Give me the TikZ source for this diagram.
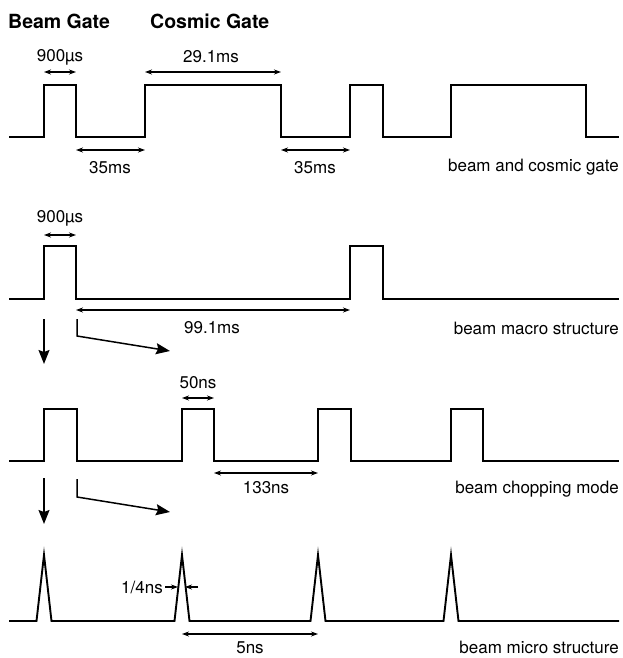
\documentclass[tikz,border=0pt]{standalone}
\usepackage{fontspec}
\setmainfont{TeX Gyre Heros}
\usetikzlibrary{arrows.meta}
\begin{document}
\begin{tikzpicture}[x=1pt,y=-1pt,
  wave/.style={line width=1.9pt,line join=miter},
  dim/.style={line width=1.1pt,{Stealth[length=7pt,width=5pt]}-{Stealth[length=7pt,width=5pt]}},
  half/.style={line width=1.1pt,-{Stealth[length=7pt,width=5pt]}},
  bigarrow/.style={line width=1.5pt,-{Stealth[length=14pt,width=11pt,inset=2pt]}},
  lbl/.style={inner sep=0pt,font=\fontsize{17}{19}\selectfont},
  title/.style={inner sep=0pt,font=\fontsize{19.5}{22}\selectfont\bfseries,anchor=west}]
\useasboundingbox (0,0) rectangle (622,658);
\fill[white] (0,0) rectangle (622,658);

% titles
\node[title] (tbeam) at (8,21) {Beam Gate};
\node[title] (tcosmic) at (150,21) {Cosmic Gate};

% ---------- row 1: beam and cosmic gate ----------
\draw[wave] (9,137) -- (44,137) -- (44,85) -- (76,85) -- (76,137) -- (145,137) -- (145,85)
  -- (281,85) -- (281,137) -- (350,137) -- (350,85) -- (383,85) -- (383,137) -- (451,137)
  -- (451,85) -- (586,85) -- (586,137) -- (619,137);
\coordinate (a1) at (44,72); \coordinate (b1) at (76,72);
\draw[dim] (a1) -- (b1);
\node[lbl] (l900a) at (60,57) {900µs};
\coordinate (a2) at (145,72); \coordinate (b2) at (281,72);
\draw[dim] (a2) -- (b2);
\node[lbl] (l291) at (211,57) {29.1ms};
\coordinate (a3) at (76,150); \coordinate (b3) at (145,150);
\draw[dim] (a3) -- (b3);
\node[lbl] (l35a) at (110,168) {35ms};
\coordinate (a4) at (281,150); \coordinate (b4) at (350,150);
\draw[dim] (a4) -- (b4);
\node[lbl] (l35b) at (315,168) {35ms};
\node[lbl,anchor=east] (r1) at (619,167) {beam and cosmic gate};

% ---------- row 2: beam macro structure ----------
\draw[wave] (9,299) -- (44,299) -- (44,246) -- (76,246) -- (76,299) -- (350,299) -- (350,246)
  -- (383,246) -- (383,299) -- (619,299);
\coordinate (a5) at (44,235); \coordinate (b5) at (76,235);
\draw[dim] (a5) -- (b5);
\node[lbl] (l900b) at (60,218) {900µs};
\coordinate (a6) at (76,310); \coordinate (b6) at (350,310);
\draw[dim] (a6) -- (b6);
\node[lbl] (l991) at (212,328) {99.1ms};
\node[lbl,anchor=east] (r2) at (619,328) {beam macro structure};
\coordinate (d1s) at (44,319); \coordinate (d1e) at (44,364);
\draw[bigarrow] (d1s) -- (d1e);
\coordinate (e1s) at (77,319); \coordinate (e1m) at (77,336); \coordinate (e1e) at (170,351);
\draw[bigarrow,line join=miter] (e1s) -- (e1m) -- (e1e);

% ---------- row 3: beam chopping mode ----------
\draw[wave] (9,461) -- (44,461) -- (44,409) -- (77,409) -- (77,461) -- (182,461) -- (182,409)
  -- (214,409) -- (214,461) -- (318,461) -- (318,409) -- (351,409) -- (351,461) -- (451,461)
  -- (451,409) -- (483,409) -- (483,461) -- (619,461);
\coordinate (a7) at (182,398); \coordinate (b7) at (214,398);
\draw[dim] (a7) -- (b7);
\node[lbl] (l50) at (198,383) {50ns};
\coordinate (a8) at (214,473); \coordinate (b8) at (318,473);
\draw[dim] (a8) -- (b8);
\node[lbl] (l133) at (266,488) {133ns};
\node[lbl,anchor=east] (r3) at (619,489) {beam chopping mode};
\coordinate (d2s) at (44,478); \coordinate (d2e) at (44,524);
\draw[bigarrow] (d2s) -- (d2e);
\coordinate (e2s) at (77,479); \coordinate (e2m) at (77,497); \coordinate (e2e) at (170,512);
\draw[bigarrow,line join=miter] (e2s) -- (e2m) -- (e2e);

% ---------- row 4: beam micro structure ----------
\draw[wave] (9,621) -- (36.5,621) -- (44,555) -- (51.5,621) -- (174.5,621) -- (182,555)
  -- (189.5,621) -- (310.5,621) -- (318,555) -- (325.5,621) -- (443.5,621) -- (451,555)
  -- (458.5,621) -- (619,621);
\node[lbl,anchor=east] (l14) at (163,587) {1/4ns};
\coordinate (q1s) at (165,587); \coordinate (q1e) at (178,587);
\draw[half] (q1s) -- (q1e);
\coordinate (q2s) at (198,587); \coordinate (q2e) at (185,587);
\draw[half] (q2s) -- (q2e);
\coordinate (a9) at (182,634); \coordinate (b9) at (318,634);
\draw[dim] (a9) -- (b9);
\node[lbl] (l5) at (250,648) {5ns};
\node[lbl,anchor=east] (r4) at (619,647) {beam micro structure};
\end{tikzpicture}
\end{document}
